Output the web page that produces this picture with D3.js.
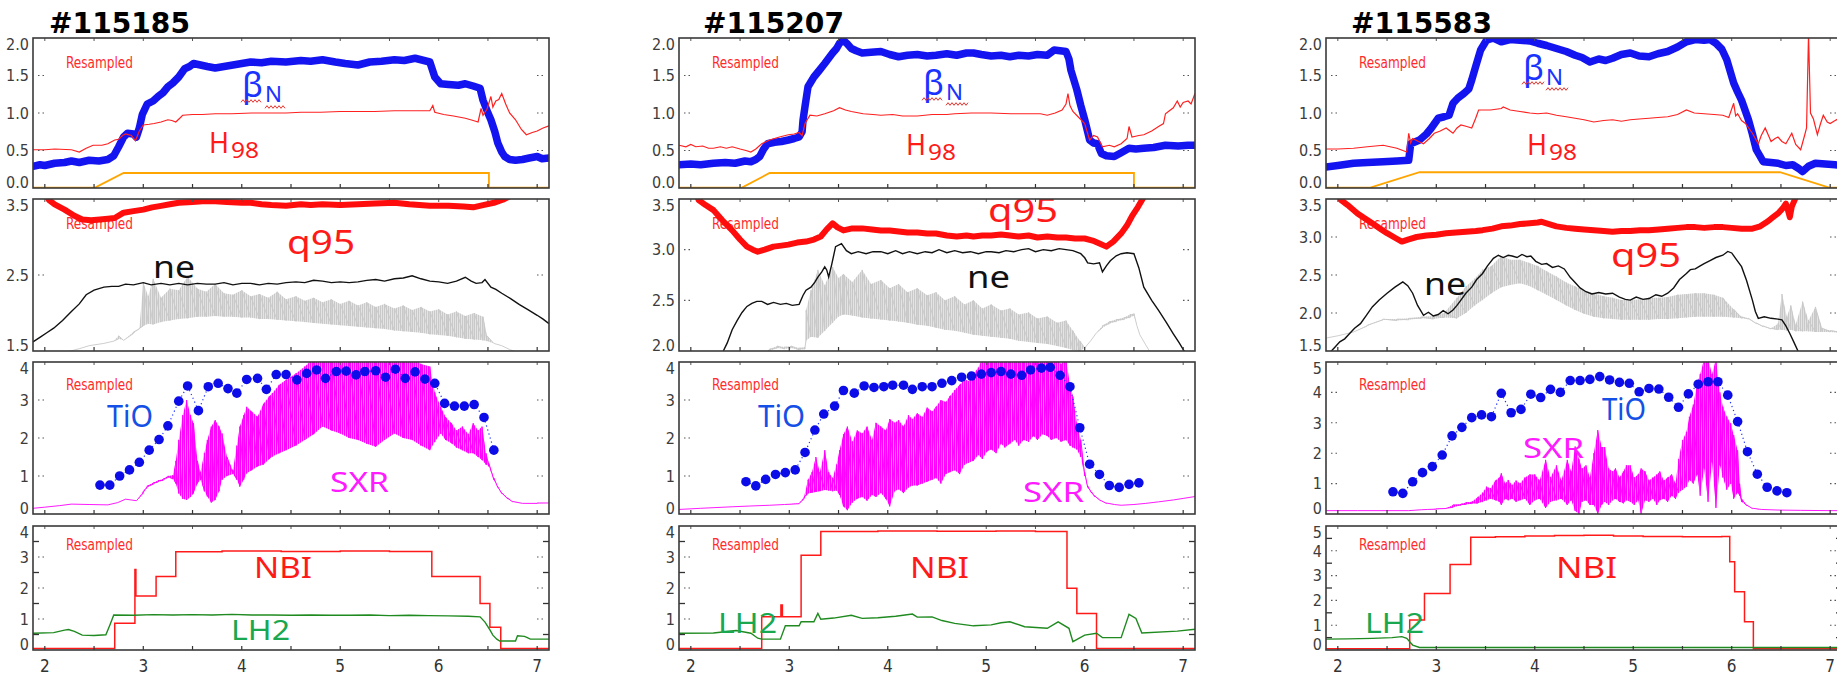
<!DOCTYPE html>
<html><head><meta charset="utf-8">
<script src="https://cdn.jsdelivr.net/npm/d3@7"></script>
<style>body{margin:0;background:#fff}svg{display:block}</style>
</head><body>
<svg id="chart" width="1837" height="677"></svg>
<script>
// ---------- shot numbers ----------
const shots = ["#115185", "#115207", "#115583"];

// ---------- time axis ----------
const xTicks = [2, 3, 4, 5, 6, 7];

// ---------- y tick labels per panel, per shot ----------
const yTicksP1 = [[0, 0.5, 1, 1.5, 2], [0, 0.5, 1, 1.5, 2], [0, 0.5, 1, 1.5, 2]];
const yTicksP2 = [[1.5, 2.5, 3.5], [2, 2.5, 3, 3.5], [1.5, 2, 2.5, 3, 3.5]];
const yTicksP3 = [[0, 1, 2, 3, 4], [0, 1, 2, 3, 4], [0, 1, 2, 3, 4, 5]];
const yTicksP4 = [[0, 1, 2, 3, 4], [0, 1, 2, 3, 4], [0, 1, 2, 3, 4, 5]];

// ---------- #115185 ----------
const bn185 = [[1.88,0.29],[1.95,0.31],[2.0,0.30],[2.1,0.33],[2.2,0.34],[2.27,0.36],[2.35,0.34],[2.45,0.37],[2.55,0.36],[2.64,0.38],[2.7,0.43],[2.75,0.55],[2.8,0.68],[2.84,0.73],[2.9,0.72],[2.93,0.68],[2.96,0.80],[2.99,0.98],[3.04,1.12],[3.1,1.16],[3.15,1.22],[3.2,1.27],[3.25,1.35],[3.3,1.40],[3.36,1.48],[3.42,1.59],[3.47,1.62],[3.51,1.66],[3.58,1.64],[3.65,1.62],[3.73,1.60],[3.82,1.62],[3.91,1.64],[4.0,1.66],[4.09,1.68],[4.2,1.67],[4.3,1.69],[4.45,1.68],[4.6,1.70],[4.7,1.69],[4.82,1.71],[4.95,1.68],[5.05,1.66],[5.18,1.64],[5.3,1.68],[5.42,1.69],[5.55,1.71],[5.65,1.70],[5.76,1.73],[5.85,1.70],[5.91,1.68],[5.96,1.48],[6.02,1.39],[6.1,1.38],[6.2,1.37],[6.27,1.39],[6.35,1.36],[6.42,1.33],[6.45,1.17],[6.5,1.0],[6.53,0.91],[6.57,0.75],[6.6,0.60],[6.64,0.48],[6.67,0.42],[6.72,0.38],[6.78,0.37],[6.85,0.38],[6.92,0.40],[7.0,0.42],[7.05,0.39],[7.12,0.40]];
const h98_185 = [[1.88,0.51],[2.0,0.51],[2.1,0.52],[2.27,0.51],[2.35,0.48],[2.42,0.53],[2.49,0.57],[2.58,0.57],[2.64,0.59],[2.71,0.64],[2.75,0.65],[2.79,0.70],[2.82,0.72],[2.88,0.70],[2.92,0.63],[2.96,0.76],[3.0,0.84],[3.06,0.85],[3.11,0.86],[3.18,0.88],[3.25,0.91],[3.29,0.90],[3.33,0.88],[3.37,0.93],[3.40,0.97],[3.5,0.98],[3.6,0.98],[3.73,0.99],[3.9,0.99],[4.1,1.0],[4.3,1.0],[4.45,1.0],[4.6,1.01],[4.8,1.01],[5.0,1.02],[5.18,1.02],[5.35,1.02],[5.55,1.03],[5.75,1.03],[5.91,1.03],[5.94,1.10],[5.96,1.01],[6.05,0.98],[6.15,0.96],[6.27,0.93],[6.35,0.90],[6.40,0.88],[6.43,1.06],[6.45,0.97],[6.49,1.05],[6.53,1.22],[6.55,1.08],[6.58,1.16],[6.61,1.18],[6.64,1.26],[6.68,1.12],[6.72,1.00],[6.78,0.91],[6.84,0.78],[6.89,0.71],[6.95,0.74],[7.0,0.76],[7.06,0.80],[7.12,0.83]];
const ip185 = [[1.88,0.005],[2.51,0.005],[2.80,0.2],[6.51,0.2],[6.51,0.005],[7.12,0.005]];
const q95_185 = [[1.98,3.65],[2.04,3.49],[2.1,3.43],[2.2,3.36],[2.3,3.28],[2.38,3.23],[2.47,3.22],[2.56,3.23],[2.64,3.24],[2.71,3.25],[2.8,3.32],[2.9,3.34],[3.0,3.36],[3.09,3.39],[3.18,3.41],[3.27,3.43],[3.36,3.45],[3.5,3.46],[3.6,3.47],[3.73,3.47],[3.85,3.46],[4.0,3.45],[4.09,3.45],[4.2,3.43],[4.3,3.42],[4.45,3.41],[4.6,3.43],[4.7,3.42],[4.82,3.43],[5.0,3.42],[5.18,3.43],[5.35,3.44],[5.55,3.45],[5.7,3.43],[5.91,3.41],[6.1,3.41],[6.25,3.40],[6.35,3.39],[6.45,3.42],[6.56,3.45],[6.65,3.49],[6.71,3.53],[6.78,3.62]];
const ne185 = [[1.88,1.62],[1.95,1.68],[2.02,1.74],[2.09,1.80],[2.18,1.90],[2.27,2.02],[2.35,2.12],[2.42,2.24],[2.5,2.30],[2.6,2.34],[2.68,2.35],[2.75,2.35],[2.82,2.38],[2.9,2.37],[3.0,2.40],[3.08,2.37],[3.18,2.39],[3.27,2.37],[3.36,2.39],[3.45,2.37],[3.55,2.39],[3.64,2.38],[3.73,2.38],[3.82,2.40],[3.91,2.37],[4.0,2.39],[4.09,2.39],[4.18,2.37],[4.27,2.39],[4.36,2.38],[4.45,2.40],[4.55,2.41],[4.64,2.40],[4.73,2.43],[4.82,2.42],[4.91,2.40],[5.0,2.41],[5.09,2.40],[5.18,2.41],[5.27,2.43],[5.36,2.44],[5.45,2.42],[5.55,2.45],[5.64,2.46],[5.73,2.49],[5.82,2.45],[5.91,2.42],[6.0,2.41],[6.09,2.39],[6.18,2.42],[6.27,2.47],[6.33,2.42],[6.38,2.39],[6.44,2.40],[6.47,2.44],[6.53,2.34],[6.58,2.31],[6.64,2.26],[6.73,2.19],[6.82,2.11],[6.91,2.04],[7.0,1.97],[7.06,1.92],[7.12,1.86]];
// [t, low, high] envelope of the fast line-density channel
const neFast185 = [[2.05,1.44,1.44],[2.2,1.48,1.48],[2.35,1.53,1.53],[2.45,1.57,1.57],[2.6,1.60,1.60],[2.7,1.63,1.63],[2.75,1.66,1.70],[2.8,1.64,1.64],[2.9,1.73,1.75],[2.96,1.79,1.80],[3.0,1.83,2.40],[3.05,1.86,2.22],[3.1,1.85,2.45],[3.18,1.88,2.20],[3.27,1.90,2.32],[3.36,1.92,2.30],[3.45,1.93,2.48],[3.55,1.95,2.32],[3.64,1.95,2.28],[3.73,1.96,2.38],[3.82,1.95,2.26],[3.91,1.95,2.24],[4.0,1.94,2.30],[4.09,1.94,2.22],[4.18,1.92,2.25],[4.27,1.92,2.20],[4.36,1.91,2.28],[4.45,1.90,2.18],[4.55,1.89,2.22],[4.64,1.88,2.16],[4.73,1.87,2.20],[4.82,1.86,2.14],[4.91,1.85,2.18],[5.0,1.84,2.12],[5.09,1.83,2.16],[5.18,1.82,2.10],[5.27,1.81,2.14],[5.36,1.80,2.08],[5.45,1.79,2.12],[5.55,1.77,2.06],[5.64,1.76,2.10],[5.73,1.75,2.04],[5.82,1.74,2.08],[5.91,1.72,2.02],[6.0,1.71,2.05],[6.09,1.70,1.98],[6.18,1.68,2.02],[6.27,1.66,1.96],[6.36,1.65,2.00],[6.45,1.64,1.95],[6.49,1.63,1.70],[6.56,1.60,1.60],[6.64,1.57,1.57],[6.72,1.52,1.52],[6.78,1.49,1.49],[6.9,1.46,1.46]];
const ti185 = [[2.56,0.76],[2.66,0.76],[2.76,1.0],[2.86,1.16],[2.96,1.36],[3.06,1.68],[3.16,1.96],[3.25,2.32],[3.36,2.97],[3.45,3.37],[3.56,2.72],[3.66,3.35],[3.76,3.44],[3.86,3.30],[3.95,3.18],[4.05,3.54],[4.16,3.57],[4.25,3.28],[4.35,3.67],[4.45,3.67],[4.56,3.53],[4.66,3.70],[4.76,3.79],[4.85,3.57],[4.96,3.75],[5.06,3.76],[5.16,3.66],[5.25,3.75],[5.36,3.77],[5.46,3.60],[5.56,3.81],[5.66,3.57],[5.76,3.74],[5.86,3.55],[5.96,3.44],[6.06,2.91],[6.16,2.84],[6.26,2.84],[6.36,2.88],[6.46,2.54],[6.56,1.68]];
const sxr185 = [[1.88,0.15,0.15],[2.0,0.18,0.18],[2.15,0.22,0.22],[2.27,0.26,0.26],[2.45,0.25,0.25],[2.64,0.24,0.24],[2.74,0.30,0.30],[2.82,0.39,0.39],[2.93,0.35,0.35],[3.0,0.55,0.60],[3.04,0.70,0.74],[3.10,0.78,0.82],[3.15,0.84,0.88],[3.2,0.88,0.92],[3.25,0.96,1.0],[3.30,0.92,1.02],[3.33,0.80,1.40],[3.36,0.54,1.95],[3.40,0.40,2.60],[3.44,0.37,3.0],[3.48,0.45,2.60],[3.51,0.54,2.39],[3.55,0.80,1.40],[3.58,0.90,1.10],[3.62,0.60,1.60],[3.65,0.46,1.95],[3.69,0.30,2.30],[3.73,0.37,2.47],[3.77,0.60,2.30],[3.80,0.90,2.12],[3.85,1.00,1.50],[3.91,1.05,1.15],[3.95,0.90,1.80],[3.98,0.72,2.30],[4.02,0.90,2.60],[4.05,1.07,2.82],[4.1,1.15,2.70],[4.16,1.25,2.56],[4.22,1.30,2.90],[4.28,1.45,3.10],[4.31,1.51,3.18],[4.38,1.60,3.40],[4.45,1.68,3.53],[4.55,1.80,3.70],[4.64,1.95,3.88],[4.73,2.10,4.1],[4.82,2.30,4.1],[4.91,2.20,4.1],[5.0,2.12,4.1],[5.09,2.00,4.1],[5.18,1.95,4.1],[5.27,1.85,4.0],[5.36,1.77,4.1],[5.45,1.95,4.1],[5.55,2.12,4.1],[5.64,2.00,4.0],[5.73,1.95,4.1],[5.82,1.80,3.95],[5.91,1.68,3.88],[5.96,1.90,3.20],[6.02,2.12,2.82],[6.07,1.95,2.55],[6.13,1.86,2.39],[6.18,1.75,2.20],[6.24,1.68,2.30],[6.30,1.60,2.10],[6.35,1.60,2.39],[6.40,1.50,2.20],[6.44,1.42,2.30],[6.48,1.30,1.60],[6.51,1.25,1.33],[6.56,0.90,0.95],[6.60,0.70,0.72],[6.64,0.54,0.56],[6.70,0.40,0.42],[6.75,0.32,0.33],[6.85,0.28,0.28],[7.0,0.28,0.29],[7.12,0.29,0.29]];
const nbi185 = [[1.88,0.05],[2.71,0.86],[2.915,2.6],[2.925,1.74],[3.13,2.37],[3.33,3.17],[3.8,3.19],[4.4,3.18],[5.0,3.19],[5.5,3.18],[5.93,2.37],[6.42,1.5],[6.52,0.73],[6.63,0.05],[7.12,0.05]];
const lh2_185 = [[1.88,0.54],[2.09,0.56],[2.2,0.64],[2.24,0.66],[2.3,0.60],[2.38,0.48],[2.5,0.47],[2.62,0.49],[2.66,0.80],[2.70,1.13],[2.9,1.12],[3.1,1.14],[3.3,1.13],[3.5,1.14],[3.7,1.13],[3.9,1.15],[4.1,1.13],[4.3,1.13],[4.5,1.12],[4.7,1.13],[4.9,1.12],[5.1,1.12],[5.3,1.13],[5.5,1.11],[5.7,1.12],[5.9,1.11],[6.1,1.10],[6.3,1.09],[6.42,1.07],[6.47,0.90],[6.52,0.65],[6.55,0.48],[6.59,0.35],[6.62,0.29],[6.78,0.29],[6.80,0.46],[6.87,0.44],[6.90,0.40],[6.93,0.35],[7.05,0.35],[7.12,0.35]];

// ---------- #115207 ----------
const bn207 = [[1.88,0.31],[2.0,0.32],[2.1,0.31],[2.23,0.33],[2.35,0.34],[2.45,0.33],[2.55,0.36],[2.61,0.35],[2.66,0.38],[2.70,0.42],[2.74,0.52],[2.78,0.59],[2.85,0.61],[2.92,0.62],[2.99,0.64],[3.05,0.66],[3.10,0.68],[3.13,0.75],[3.14,0.91],[3.16,1.09],[3.19,1.35],[3.25,1.48],[3.30,1.56],[3.36,1.66],[3.40,1.73],[3.44,1.80],[3.48,1.86],[3.51,1.93],[3.55,1.97],[3.59,1.92],[3.63,1.86],[3.68,1.83],[3.74,1.80],[3.83,1.81],[3.93,1.82],[4.02,1.78],[4.11,1.75],[4.2,1.77],[4.3,1.78],[4.4,1.76],[4.49,1.77],[4.6,1.79],[4.7,1.77],[4.8,1.80],[4.87,1.80],[4.95,1.78],[5.05,1.76],[5.15,1.77],[5.24,1.75],[5.33,1.77],[5.43,1.76],[5.52,1.78],[5.62,1.77],[5.69,1.84],[5.75,1.83],[5.81,1.82],[5.84,1.72],[5.86,1.57],[5.89,1.44],[5.92,1.31],[5.96,1.10],[6.0,0.91],[6.03,0.75],[6.05,0.64],[6.09,0.60],[6.13,0.59],[6.15,0.52],[6.17,0.46],[6.22,0.43],[6.30,0.42],[6.37,0.47],[6.45,0.53],[6.52,0.52],[6.60,0.53],[6.7,0.54],[6.82,0.57],[6.95,0.56],[7.05,0.57],[7.12,0.57]];
const h98_207 = [[1.88,0.57],[1.95,0.55],[2.0,0.58],[2.05,0.55],[2.12,0.56],[2.18,0.53],[2.23,0.53],[2.3,0.55],[2.36,0.53],[2.42,0.55],[2.5,0.52],[2.56,0.50],[2.61,0.48],[2.66,0.52],[2.72,0.59],[2.80,0.64],[2.9,0.68],[2.99,0.71],[3.05,0.72],[3.10,0.74],[3.13,0.70],[3.16,0.86],[3.21,0.97],[3.28,0.96],[3.36,0.99],[3.45,1.03],[3.51,1.07],[3.57,1.04],[3.63,1.02],[3.75,0.99],[3.85,0.98],[3.93,0.97],[4.05,0.98],[4.15,0.96],[4.3,0.96],[4.45,0.98],[4.6,0.98],[4.68,0.99],[4.85,1.0],[5.05,1.0],[5.25,0.99],[5.43,0.99],[5.55,0.99],[5.62,0.97],[5.70,1.0],[5.77,1.04],[5.81,1.12],[5.83,1.26],[5.85,1.10],[5.88,1.02],[5.94,0.94],[6.0,0.86],[6.05,0.64],[6.09,0.70],[6.13,0.68],[6.18,0.55],[6.25,0.57],[6.30,0.55],[6.37,0.59],[6.43,0.66],[6.45,0.82],[6.48,0.68],[6.55,0.70],[6.60,0.71],[6.68,0.76],[6.75,0.82],[6.80,0.86],[6.82,0.99],[6.86,1.03],[6.90,1.07],[6.94,1.16],[6.97,1.08],[7.0,1.14],[7.05,1.16],[7.08,1.12],[7.12,1.26]];
const ip207 = [[1.88,0.005],[2.52,0.005],[2.80,0.2],[6.50,0.2],[6.50,0.005],[7.12,0.005]];
const q95_207 = [[2.0,3.68],[2.08,3.49],[2.15,3.44],[2.23,3.39],[2.32,3.29],[2.42,3.19],[2.5,3.10],[2.57,3.03],[2.63,3.0],[2.68,2.98],[2.75,3.0],[2.84,3.03],[2.92,3.04],[2.99,3.05],[3.08,3.07],[3.17,3.08],[3.25,3.10],[3.32,3.13],[3.38,3.20],[3.44,3.26],[3.49,3.22],[3.55,3.19],[3.64,3.21],[3.74,3.21],[3.84,3.20],[3.93,3.19],[4.02,3.19],[4.11,3.18],[4.2,3.17],[4.3,3.17],[4.4,3.16],[4.49,3.16],[4.6,3.14],[4.7,3.13],[4.8,3.14],[4.87,3.13],[4.96,3.14],[5.05,3.14],[5.15,3.15],[5.24,3.14],[5.33,3.13],[5.43,3.14],[5.52,3.12],[5.62,3.13],[5.72,3.12],[5.81,3.12],[5.9,3.11],[6.0,3.11],[6.08,3.09],[6.15,3.06],[6.22,3.03],[6.29,3.08],[6.37,3.16],[6.43,3.24],[6.48,3.33],[6.54,3.42],[6.6,3.52],[6.65,3.62]];
const ne207 = [[2.30,1.95],[2.33,2.0],[2.37,2.08],[2.42,2.21],[2.47,2.30],[2.52,2.38],[2.57,2.44],[2.62,2.47],[2.67,2.49],[2.72,2.49],[2.78,2.46],[2.84,2.48],[2.91,2.46],[2.97,2.47],[3.03,2.45],[3.10,2.46],[3.14,2.55],[3.17,2.60],[3.22,2.63],[3.26,2.68],[3.29,2.73],[3.33,2.78],[3.36,2.83],[3.38,2.80],[3.40,2.73],[3.43,2.85],[3.47,3.03],[3.53,3.06],[3.58,2.99],[3.63,2.96],[3.7,2.98],[3.78,2.96],[3.85,2.98],[3.93,2.98],[4.0,2.96],[4.08,2.99],[4.15,2.96],[4.22,2.98],[4.30,2.96],[4.38,2.98],[4.45,2.97],[4.52,3.0],[4.6,2.97],[4.68,2.99],[4.76,2.97],[4.84,2.98],[4.92,2.96],[5.0,2.98],[5.05,2.98],[5.13,2.97],[5.2,2.99],[5.28,2.98],[5.36,3.0],[5.43,3.01],[5.5,2.98],[5.58,3.0],[5.66,2.99],[5.74,3.01],[5.81,3.0],[5.88,2.99],[5.96,2.96],[6.0,2.92],[6.03,2.87],[6.09,2.86],[6.15,2.87],[6.18,2.78],[6.22,2.84],[6.26,2.89],[6.32,2.94],[6.37,2.96],[6.43,2.97],[6.50,2.96],[6.55,2.82],[6.60,2.63],[6.68,2.50],[6.75,2.40],[6.83,2.28],[6.90,2.17],[6.96,2.08],[7.01,2.0],[7.05,1.95]];
const neFast207 = [[2.75,1.98,1.98],[2.80,2.0,2.02],[2.88,2.03,2.05],[2.95,2.02,2.04],[3.02,2.03,2.05],[3.10,2.01,2.03],[3.16,2.02,2.04],[3.17,2.10,2.40],[3.22,2.14,2.60],[3.29,2.13,2.80],[3.36,2.20,2.65],[3.44,2.28,2.83],[3.50,2.34,2.72],[3.55,2.36,2.76],[3.64,2.35,2.68],[3.74,2.33,2.80],[3.83,2.32,2.66],[3.93,2.31,2.70],[4.02,2.30,2.62],[4.11,2.29,2.66],[4.2,2.28,2.58],[4.30,2.26,2.62],[4.4,2.25,2.55],[4.49,2.23,2.58],[4.58,2.21,2.50],[4.68,2.20,2.54],[4.78,2.18,2.46],[4.87,2.16,2.50],[4.96,2.15,2.42],[5.05,2.14,2.46],[5.15,2.13,2.40],[5.24,2.12,2.42],[5.33,2.10,2.36],[5.43,2.09,2.38],[5.52,2.08,2.32],[5.62,2.07,2.34],[5.72,2.05,2.28],[5.81,2.03,2.30],[5.88,2.01,2.20],[5.95,2.0,2.10],[6.0,2.03,2.03],[6.06,2.10,2.10],[6.12,2.18,2.18],[6.18,2.23,2.25],[6.25,2.27,2.29],[6.32,2.29,2.31],[6.40,2.31,2.33],[6.46,2.33,2.36],[6.50,2.35,2.37],[6.53,2.25,2.25],[6.56,2.16,2.16],[6.62,2.06,2.06],[6.67,1.98,1.98]];
const ti207 = [[2.56,0.85],[2.66,0.74],[2.76,0.91],[2.86,1.04],[2.96,1.09],[3.06,1.16],[3.16,1.62],[3.26,2.21],[3.35,2.63],[3.46,2.84],[3.55,3.25],[3.66,3.18],[3.76,3.37],[3.86,3.33],[3.96,3.35],[4.05,3.39],[4.16,3.39],[4.25,3.28],[4.35,3.35],[4.45,3.35],[4.55,3.44],[4.65,3.51],[4.75,3.60],[4.85,3.63],[4.95,3.68],[5.05,3.72],[5.15,3.75],[5.25,3.68],[5.36,3.65],[5.45,3.79],[5.56,3.84],[5.65,3.86],[5.75,3.65],[5.85,3.35],[5.95,2.27],[6.05,1.31],[6.15,1.04],[6.25,0.75],[6.35,0.70],[6.45,0.78],[6.55,0.82]];
const sxr207 = [[1.88,0.12,0.12],[2.1,0.15,0.15],[2.42,0.19,0.19],[2.6,0.21,0.21],[2.8,0.23,0.23],[2.95,0.25,0.25],[3.10,0.27,0.28],[3.15,0.40,0.45],[3.19,0.54,0.90],[3.23,0.56,1.10],[3.27,0.58,1.50],[3.31,0.60,1.10],[3.36,0.63,1.68],[3.40,0.62,1.10],[3.44,0.60,0.95],[3.48,0.62,1.30],[3.51,0.50,1.68],[3.55,0.20,2.10],[3.59,0.10,2.30],[3.64,0.30,1.90],[3.69,0.40,2.20],[3.74,0.45,2.12],[3.79,0.35,2.30],[3.84,0.50,1.95],[3.88,0.45,2.40],[3.93,0.55,2.30],[3.98,0.40,2.20],[4.02,0.20,2.50],[4.07,0.60,2.40],[4.11,0.65,2.47],[4.16,0.55,2.30],[4.21,0.70,2.60],[4.25,0.75,2.50],[4.30,0.75,2.65],[4.35,0.80,2.55],[4.40,0.85,2.80],[4.45,0.90,2.70],[4.49,0.95,2.82],[4.54,0.80,3.0],[4.59,1.05,2.95],[4.63,1.10,3.10],[4.68,1.15,3.26],[4.73,1.05,3.40],[4.78,1.30,3.55],[4.82,1.35,3.50],[4.87,1.40,3.70],[4.92,1.55,3.85],[4.96,1.45,4.1],[5.01,1.65,4.1],[5.05,1.70,4.1],[5.10,1.60,4.1],[5.15,1.85,4.1],[5.19,1.75,4.0],[5.24,1.85,4.1],[5.29,1.95,4.1],[5.33,1.80,4.1],[5.38,1.95,4.0],[5.43,1.90,4.1],[5.48,2.05,4.1],[5.52,1.95,4.1],[5.57,2.10,4.0],[5.62,2.05,4.1],[5.66,1.95,4.1],[5.71,2.00,4.1],[5.76,1.90,3.95],[5.81,1.95,4.1],[5.85,1.80,3.40],[5.88,1.75,3.09],[5.92,1.70,2.40],[5.96,1.50,1.95],[6.0,1.00,1.10],[6.03,0.70,0.74],[6.07,0.55,0.58],[6.10,0.46,0.48],[6.16,0.35,0.36],[6.22,0.28,0.29],[6.30,0.25,0.25],[6.37,0.23,0.23],[6.50,0.25,0.25],[6.62,0.28,0.28],[6.75,0.32,0.32],[6.90,0.37,0.37],[7.0,0.41,0.41],[7.12,0.46,0.46]];
const nbi207 = [[1.88,0.05],[2.72,1.07],[2.915,1.45],[2.93,1.07],[3.12,3.06],[3.32,3.82],[3.9,3.84],[4.5,3.83],[5.1,3.84],[5.5,3.82],[5.82,1.99],[5.92,1.18],[6.12,0.05],[7.12,0.05]];
const lh2_207 = [[1.88,0.54],[2.23,0.55],[2.46,0.63],[2.61,0.54],[2.68,0.38],[2.72,0.35],[2.91,0.35],[2.96,0.78],[3.10,0.78],[3.12,0.91],[3.25,0.91],[3.29,1.18],[3.32,0.99],[3.45,1.03],[3.63,1.12],[3.74,1.02],[3.9,1.04],[4.08,1.09],[4.25,1.16],[4.3,1.06],[4.45,1.07],[4.55,0.95],[4.68,0.86],[4.87,0.78],[5.05,0.81],[5.15,0.88],[5.24,0.91],[5.39,0.75],[5.62,0.70],[5.73,0.91],[5.84,0.70],[5.88,0.27],[6.0,0.48],[6.12,0.54],[6.18,0.40],[6.37,0.40],[6.45,1.15],[6.52,1.02],[6.58,0.55],[6.94,0.61],[7.12,0.67]];

// ---------- #115583 ----------
const bn583 = [[1.88,0.28],[2.0,0.30],[2.16,0.33],[2.3,0.34],[2.46,0.35],[2.6,0.36],[2.72,0.37],[2.74,0.59],[2.83,0.64],[2.9,0.72],[2.95,0.80],[3.02,0.93],[3.08,0.95],[3.13,0.97],[3.17,1.13],[3.22,1.20],[3.28,1.26],[3.33,1.32],[3.36,1.44],[3.40,1.62],[3.45,1.84],[3.51,1.97],[3.58,2.0],[3.66,1.95],[3.75,1.98],[3.85,1.97],[3.95,1.96],[4.03,1.93],[4.12,1.90],[4.22,1.86],[4.32,1.82],[4.41,1.77],[4.48,1.74],[4.56,1.68],[4.65,1.72],[4.72,1.70],[4.79,1.73],[4.88,1.78],[4.97,1.80],[5.06,1.76],[5.16,1.75],[5.25,1.79],[5.35,1.82],[5.45,1.88],[5.54,1.95],[5.63,1.98],[5.72,1.97],[5.78,1.98],[5.84,1.93],[5.90,1.85],[5.95,1.71],[6.02,1.40],[6.06,1.28],[6.10,1.17],[6.17,0.91],[6.21,0.72],[6.25,0.51],[6.32,0.35],[6.40,0.34],[6.47,0.33],[6.55,0.30],[6.62,0.31],[6.68,0.26],[6.72,0.22],[6.78,0.29],[6.85,0.33],[6.95,0.32],[7.05,0.31],[7.12,0.30]];
const h98_583 = [[1.88,0.52],[2.0,0.52],[2.16,0.53],[2.3,0.55],[2.46,0.57],[2.6,0.53],[2.70,0.48],[2.72,0.73],[2.74,0.60],[2.76,0.66],[2.82,0.62],[2.87,0.59],[2.93,0.66],[2.98,0.73],[3.04,0.76],[3.10,0.80],[3.14,0.76],[3.17,0.73],[3.21,0.80],[3.25,0.84],[3.31,0.82],[3.36,0.80],[3.40,0.93],[3.43,1.04],[3.55,1.04],[3.66,1.06],[3.68,1.08],[3.75,1.04],[3.85,1.02],[3.95,1.0],[4.03,0.99],[4.12,1.0],[4.22,0.97],[4.32,0.95],[4.41,0.93],[4.5,0.91],[4.6,0.88],[4.7,0.90],[4.79,0.91],[4.88,0.89],[4.97,0.91],[5.06,0.92],[5.16,0.93],[5.25,0.94],[5.35,0.95],[5.45,0.98],[5.54,1.04],[5.62,1.0],[5.72,0.99],[5.82,0.98],[5.91,0.97],[5.97,0.94],[6.02,1.13],[6.04,0.96],[6.06,0.99],[6.10,0.90],[6.14,0.86],[6.21,0.73],[6.27,0.59],[6.30,0.70],[6.34,0.80],[6.40,0.62],[6.44,0.66],[6.47,0.68],[6.51,0.62],[6.55,0.59],[6.58,0.66],[6.61,0.73],[6.65,0.58],[6.70,0.51],[6.74,0.70],[6.76,0.80],[6.78,2.05],[6.80,1.00],[6.83,0.92],[6.87,0.71],[6.90,0.85],[6.93,0.97],[6.97,0.88],[7.0,0.86],[7.05,0.90],[7.12,0.95]];
const ip583 = [[1.88,0.005],[2.33,0.005],[2.83,0.21],[6.49,0.21],[6.99,0.005],[7.12,0.005]];
const q95_583 = [[1.98,3.65],[2.03,3.49],[2.1,3.42],[2.2,3.31],[2.28,3.24],[2.35,3.18],[2.43,3.11],[2.5,3.05],[2.58,2.99],[2.65,2.94],[2.72,2.97],[2.80,3.0],[2.9,3.02],[3.0,3.03],[3.10,3.05],[3.2,3.06],[3.3,3.07],[3.4,3.08],[3.47,3.09],[3.57,3.11],[3.66,3.14],[3.75,3.15],[3.85,3.17],[3.95,3.18],[4.03,3.19],[4.07,3.20],[4.12,3.18],[4.22,3.14],[4.32,3.12],[4.41,3.11],[4.5,3.10],[4.60,3.09],[4.7,3.08],[4.79,3.07],[4.88,3.08],[4.97,3.08],[5.07,3.09],[5.16,3.09],[5.26,3.10],[5.35,3.11],[5.45,3.12],[5.54,3.13],[5.63,3.13],[5.72,3.12],[5.82,3.13],[5.91,3.13],[6.0,3.12],[6.1,3.11],[6.21,3.11],[6.29,3.14],[6.36,3.20],[6.42,3.26],[6.47,3.31],[6.52,3.38],[6.55,3.44],[6.57,3.36],[6.59,3.26],[6.61,3.40],[6.64,3.49],[6.68,3.60]];
const ne583 = [[1.92,1.48],[1.97,1.55],[2.02,1.62],[2.07,1.66],[2.12,1.73],[2.17,1.80],[2.23,1.86],[2.29,1.97],[2.35,2.08],[2.42,2.17],[2.50,2.26],[2.58,2.34],[2.66,2.41],[2.71,2.36],[2.76,2.26],[2.81,2.10],[2.87,1.97],[2.92,2.01],[2.97,1.96],[3.02,1.98],[3.07,2.03],[3.12,1.99],[3.17,2.04],[3.21,2.10],[3.25,2.17],[3.30,2.26],[3.36,2.34],[3.41,2.44],[3.47,2.52],[3.52,2.62],[3.58,2.72],[3.63,2.76],[3.68,2.73],[3.73,2.76],[3.77,2.75],[3.82,2.73],[3.87,2.77],[3.92,2.74],[3.96,2.75],[4.01,2.68],[4.07,2.64],[4.12,2.65],[4.18,2.60],[4.24,2.62],[4.30,2.58],[4.36,2.47],[4.41,2.40],[4.46,2.33],[4.52,2.28],[4.58,2.25],[4.65,2.27],[4.72,2.25],[4.79,2.26],[4.86,2.21],[4.92,2.18],[4.97,2.17],[5.03,2.21],[5.10,2.18],[5.16,2.19],[5.23,2.24],[5.29,2.22],[5.35,2.26],[5.41,2.33],[5.47,2.44],[5.54,2.52],[5.58,2.57],[5.63,2.58],[5.68,2.62],[5.72,2.65],[5.78,2.69],[5.84,2.73],[5.91,2.76],[5.96,2.81],[6.0,2.79],[6.05,2.70],[6.10,2.61],[6.15,2.43],[6.21,2.17],[6.24,2.02],[6.27,1.93],[6.33,1.95],[6.40,1.93],[6.47,1.92],[6.51,1.91],[6.55,1.83],[6.59,1.73],[6.63,1.62],[6.68,1.48]];
const neFast583 = [[1.88,1.67,1.67],[2.0,1.70,1.70],[2.16,1.75,1.75],[2.3,1.83,1.84],[2.46,1.91,1.92],[2.6,1.90,1.92],[2.72,1.91,1.93],[2.85,1.93,1.95],[2.97,1.92,1.96],[3.08,1.94,2.0],[3.21,1.93,2.20],[3.3,2.0,2.35],[3.39,2.10,2.45],[3.47,2.17,2.57],[3.56,2.26,2.62],[3.66,2.34,2.75],[3.75,2.37,2.70],[3.85,2.39,2.70],[3.94,2.36,2.66],[4.03,2.30,2.62],[4.12,2.24,2.55],[4.22,2.17,2.48],[4.32,2.10,2.40],[4.41,2.04,2.35],[4.5,1.99,2.30],[4.60,1.95,2.26],[4.7,1.93,2.22],[4.79,1.92,2.20],[4.88,1.91,2.17],[4.97,1.91,2.17],[5.07,1.91,2.18],[5.16,1.91,2.20],[5.26,1.92,2.20],[5.35,1.92,2.21],[5.45,1.93,2.24],[5.54,1.94,2.25],[5.63,1.95,2.26],[5.72,1.95,2.26],[5.82,1.95,2.24],[5.91,1.95,2.20],[6.02,1.94,2.05],[6.10,1.93,1.95],[6.17,1.92,1.93],[6.25,1.86,1.87],[6.32,1.82,1.83],[6.40,1.79,1.80],[6.47,1.78,1.86],[6.51,1.78,2.25],[6.56,1.77,1.95],[6.60,1.78,2.10],[6.65,1.76,1.85],[6.72,1.76,2.15],[6.78,1.76,1.90],[6.85,1.75,2.08],[6.92,1.75,1.80],[7.0,1.75,1.77],[7.12,1.74,1.76]];
const ti583 = [[2.56,0.73],[2.66,0.68],[2.76,1.06],[2.86,1.36],[2.96,1.56],[3.06,1.94],[3.16,2.57],[3.26,2.85],[3.36,3.17],[3.46,3.26],[3.56,3.20],[3.66,3.97],[3.76,3.33],[3.86,3.44],[3.96,3.94],[4.06,3.83],[4.16,4.10],[4.26,4.0],[4.36,4.39],[4.46,4.39],[4.56,4.43],[4.66,4.52],[4.76,4.41],[4.86,4.33],[4.96,4.30],[5.06,4.02],[5.16,4.13],[5.26,4.11],[5.36,3.84],[5.46,3.51],[5.56,3.95],[5.66,4.27],[5.76,4.35],[5.86,4.35],[5.96,3.91],[6.06,3.04],[6.16,2.05],[6.26,1.31],[6.36,0.88],[6.46,0.76],[6.56,0.70]];
const sxr583 = [[1.88,0.11,0.11],[2.2,0.11,0.11],[2.5,0.11,0.11],[2.72,0.11,0.11],[2.85,0.14,0.14],[2.91,0.15,0.15],[3.0,0.16,0.17],[3.10,0.18,0.19],[3.17,0.22,0.30],[3.25,0.29,0.33],[3.30,0.31,0.38],[3.36,0.34,0.40],[3.42,0.35,0.55],[3.47,0.40,0.70],[3.51,0.45,0.90],[3.55,0.50,0.85],[3.60,0.45,1.10],[3.64,0.40,1.20],[3.66,0.30,1.34],[3.70,0.50,1.00],[3.73,0.45,1.12],[3.77,0.50,0.95],[3.81,0.40,1.10],[3.85,0.45,1.00],[3.90,0.50,1.20],[3.95,0.30,1.30],[4.0,0.45,1.30],[4.05,0.50,1.10],[4.11,0.20,1.78],[4.16,0.40,1.20],[4.22,0.45,1.60],[4.27,0.50,1.10],[4.33,0.30,1.78],[4.37,0.45,1.40],[4.41,0.10,2.22],[4.45,0.0,1.80],[4.48,0.40,1.50],[4.52,0.45,1.60],[4.56,0.30,1.20],[4.60,0.30,2.00],[4.64,0.0,2.76],[4.68,0.30,2.20],[4.71,0.40,2.20],[4.75,0.30,1.50],[4.79,0.45,1.40],[4.82,0.50,1.50],[4.86,0.40,1.20],[4.90,0.35,1.40],[4.93,0.45,1.60],[4.97,0.40,1.60],[5.01,0.30,1.20],[5.05,0.45,1.30],[5.08,0.00,1.50],[5.12,0.45,1.40],[5.16,0.40,1.10],[5.20,0.50,1.20],[5.24,0.30,1.30],[5.27,0.45,1.40],[5.31,0.50,1.10],[5.35,0.40,1.20],[5.39,0.60,1.30],[5.43,0.50,1.00],[5.46,0.70,1.80],[5.50,0.80,2.43],[5.54,0.90,2.70],[5.57,1.12,3.20],[5.61,1.00,3.60],[5.65,1.30,4.30],[5.68,0.60,4.60],[5.72,1.50,5.1],[5.76,0.40,5.1],[5.80,1.70,4.60],[5.84,0.20,5.1],[5.88,1.60,4.00],[5.91,1.20,3.53],[5.95,0.80,3.20],[5.99,1.00,2.98],[6.02,0.50,2.60],[6.06,0.70,2.10],[6.08,0.60,1.00],[6.10,0.40,0.50],[6.15,0.28,0.30],[6.21,0.18,0.19],[6.3,0.15,0.15],[6.47,0.13,0.13],[6.7,0.12,0.12],[7.0,0.11,0.11],[7.12,0.11,0.11]];
const nbi583 = [[1.88,0.05],[2.73,1.21],[2.88,2.28],[3.14,3.45],[3.35,4.55],[3.6,4.57],[3.9,4.60],[4.2,4.62],[4.5,4.63],[4.8,4.60],[5.1,4.58],[5.5,4.57],[5.9,4.58],[5.98,3.56],[6.03,2.35],[6.13,1.14],[6.22,0.05],[7.12,0.05]];
const lh2_583 = [[1.88,0.44],[2.1,0.45],[2.35,0.47],[2.55,0.50],[2.65,0.54],[2.70,0.47],[2.76,0.20],[2.83,0.10],[7.12,0.10]];

// ---------- layout ----------
const colLeft = [33, 679, 1326];
const colWidth = 516;
const panelTop = [38, 199, 362, 526];
const panelBottom = [188, 351, 514, 650];
const tDomain = [1.88, 7.12];
const yDomains = [
  [[0, 2], [0, 2], [0, 2]],
  [[1.5, 3.5], [2, 3.5], [1.5, 3.5]],
  [[0, 4], [0, 4], [0, 5]],
  [[0, 4], [0, 4], [0, 5]]
];
const yTickSets = [yTicksP1, yTicksP2, yTicksP3, yTicksP4];

const series = [
  {bn: bn185, h98: h98_185, ip: ip185, q95: q95_185, ne: ne185, neFast: neFast185, ti: ti185, sxr: sxr185, nbi: nbi185, lh2: lh2_185},
  {bn: bn207, h98: h98_207, ip: ip207, q95: q95_207, ne: ne207, neFast: neFast207, ti: ti207, sxr: sxr207, nbi: nbi207, lh2: lh2_207},
  {bn: bn583, h98: h98_583, ip: ip583, q95: q95_583, ne: ne583, neFast: neFast583, ti: ti583, sxr: sxr583, nbi: nbi583, lh2: lh2_583}
];

// label placement: dx from frame left, y = baseline
const titleDx = [16, 24, 25];
const labelLayout = [
  {beta:[209,97], n:[232,102], h:[176,153], h98:[198,158], q95:[254,254,68], ne:[120,278,42], ti:[74,427,46], sxr:[297,492,59], nbi:[221,578,58], lh2:[198,640,59], sq:[[208,229,101],[232,253,107]]},
  {beta:[244,95], n:[267,100], h:[227,155], h98:[249,160], q95:[309,222,70], ne:[288,288,43], ti:[79,427,47], sxr:[344,502,61], nbi:[231,578,59], lh2:[39,633,59], sq:[[243,264,99],[267,289,104]]},
  {beta:[197,80], n:[220,85], h:[201,155], h98:[223,160], q95:[285,267,70], ne:[98,295,42], ti:[276,420,44], sxr:[197,458,61], nbi:[230,578,61], lh2:[39,633,59], sq:[[196,218,83],[220,242,89]]}
];

const FONT_LBL = "'Noto Sans', Lato, sans-serif";
const FONT_AX = "'Liberation Sans Narrow','DejaVu Sans Condensed','Liberation Sans',sans-serif";

const svg = d3.select("#chart");
svg.append("rect").attr("width", 1837).attr("height", 677).attr("fill", "#fff");
const defs = svg.append("defs");

// striped fills for the fast, spiky channels
function stripe(id, c1, c2) {
  const p = defs.append("pattern").attr("id", id).attr("width", 2).attr("height", 4)
    .attr("patternUnits", "userSpaceOnUse");
  p.append("rect").attr("width", 2).attr("height", 4).attr("fill", c2);
  p.append("rect").attr("width", 1).attr("height", 4).attr("fill", c1);
}
stripe("magStripe", "#ff00ff", "#ff8cff");
stripe("greyStripe", "#c9c9c9", "#e4e4e4");

function txt(g, s, x, y, size, color, width, opts = {}) {
  const t = g.append("text").attr("x", x).attr("y", y).text(s)
    .attr("font-family", opts.family || FONT_LBL).attr("font-size", size)
    .attr("fill", color);
  if (opts.weight) t.attr("font-weight", opts.weight);
  if (width) t.attr("textLength", width).attr("lengthAdjust", "spacingAndGlyphs");
  if (opts.anchor) t.attr("text-anchor", opts.anchor);
  return t;
}

function squiggle(g, x0, x1, y) {
  const pts = [];
  let i = 0;
  for (let x = x0; x <= x1; x += 2, i++) pts.push([x, y + (i % 2 ? -1.3 : 1.3)]);
  g.append("path").attr("d", d3.line()(pts)).attr("fill", "none")
    .attr("stroke", "#e8342c").attr("stroke-width", 1);
}

shots.forEach((shot, c) => {
  const L = colLeft[c], R = L + colWidth;
  const x = d3.scaleLinear().domain(tDomain).range([L, R]);
  const s = series[c];
  const lay = labelLayout[c];
  const col = svg.append("g");

  // shot number
  txt(col, shot, L + titleDx[c], 33, 29, "#000", 141, {family: "'DejaVu Sans', sans-serif", weight: "bold"});

  const ys = [0, 1, 2, 3].map(p => d3.scaleLinear().domain(yDomains[p][c]).range([panelBottom[p], panelTop[p]]));

  const panels = ys.map((y, p) => {
    const id = `clip${c}${p}`;
    defs.append("clipPath").attr("id", id).append("rect")
      .attr("x", L).attr("y", panelTop[p]).attr("width", colWidth).attr("height", panelBottom[p] - panelTop[p]);
    return col.append("g").attr("clip-path", `url(#${id})`);
  });

  const lineOf = (y, curve) => d3.line().x(d => x(d[0])).y(d => y(d[1])).curve(curve || d3.curveLinear);

  function envelope(g, y, data, fillId, stroke) {
    g.append("path").datum(data)
      .attr("d", d3.area().x(d => x(d[0])).y0(d => y(d[1])).y1(d => y(d[2])))
      .attr("fill", `url(#${fillId})`);
    const pts = [];
    data.forEach(d => { pts.push([x(d[0]), y(d[1])]); pts.push([x(d[0]), y(d[2])]); });
    g.append("path").attr("d", d3.line()(pts)).attr("fill", "none")
      .attr("stroke", stroke).attr("stroke-width", 0.9);
  }

  const resampled = (g, p) => txt(g, "Resampled", L + 33, panelTop[p] + (p === 3 ? 24 : (p === 2 ? 28 : 30)), 16, "#ff2a2a", 67,
    {family: "'Liberation Sans Narrow','DejaVu Sans Condensed',sans-serif"});

  // ---- panel 1: beta_N, H98, current ramp ----
  {
    const g = panels[0], y = ys[0];
    resampled(g, 0);
    g.append("path").datum(s.bn).attr("d", lineOf(y)).attr("fill", "none")
      .attr("stroke", "#1414f0").attr("stroke-width", 7.5).attr("stroke-linejoin", "round").attr("stroke-linecap", "round");
    g.append("path").datum(s.h98).attr("d", lineOf(y)).attr("fill", "none")
      .attr("stroke", "#ff2020").attr("stroke-width", 1.2);
    g.append("path").datum(s.ip).attr("d", lineOf(y)).attr("fill", "none")
      .attr("stroke", "#ffa500").attr("stroke-width", 1.8);
    txt(g, "β", L + lay.beta[0], lay.beta[1], 34, "#1a33ff", 21);
    txt(g, "N", L + lay.n[0], lay.n[1], 22, "#1a33ff", 17);
    lay.sq.forEach(q => squiggle(g, L + q[0], L + q[1], q[2]));
    txt(g, "H", L + lay.h[0], lay.h[1], 29, "#ff1a1a", 20);
    txt(g, "98", L + lay.h98[0], lay.h98[1], 22, "#ff1a1a", 28);
  }
  // ---- panel 2: q95, density ----
  {
    const g = panels[1], y = ys[1];
    resampled(g, 1);
    envelope(g, y, s.neFast, "greyStripe", "#c8c8c8");
    g.append("path").datum(s.ne).attr("d", lineOf(y)).attr("fill", "none")
      .attr("stroke", "#111").attr("stroke-width", 1.4);
    g.append("path").datum(s.q95).attr("d", lineOf(y)).attr("fill", "none")
      .attr("stroke", "#ff0d0d").attr("stroke-width", 6).attr("stroke-linejoin", "round");
    txt(g, "q95", L + lay.q95[0], lay.q95[1], 32, "#ff1a1a", lay.q95[2]);
    txt(g, "ne", L + lay.ne[0], lay.ne[1], 30, "#111", lay.ne[2]);
  }
  // ---- panel 3: ion temperature, soft X-ray ----
  {
    const g = panels[2], y = ys[2];
    resampled(g, 2);
    envelope(g, y, s.sxr, "magStripe", "#ff00ff");
    g.append("path").datum(s.ti).attr("d", lineOf(y)).attr("fill", "none")
      .attr("stroke", "#2030ff").attr("stroke-width", 1.2).attr("stroke-dasharray", "1.2,3");
    g.selectAll("circle.ti").data(s.ti).enter().append("circle")
      .attr("cx", d => x(d[0])).attr("cy", d => y(d[1])).attr("r", 4.8).attr("fill", "#0c0ce8");
    txt(g, "TiO", L + lay.ti[0], lay.ti[1], 30, "#1450e6", lay.ti[2]);
    txt(g, "SXR", L + lay.sxr[0], lay.sxr[1], 28, "#ff1aff", lay.sxr[2]);
  }
  // ---- panel 4: NBI and LH power ----
  {
    const g = panels[3], y = ys[3];
    resampled(g, 3);
    g.append("path").datum(s.nbi).attr("d", lineOf(y, d3.curveStepAfter)).attr("fill", "none")
      .attr("stroke", "#ff1a1a").attr("stroke-width", 1.5);
    g.append("path").datum(s.lh2).attr("d", lineOf(y)).attr("fill", "none")
      .attr("stroke", "#1f8a1f").attr("stroke-width", 1.4);
    txt(g, "NBI", L + lay.nbi[0], lay.nbi[1], 29, "#ff1a1a", lay.nbi[2]);
    txt(g, "LH2", L + lay.lh2[0], lay.lh2[1], 28, "#19a850", lay.lh2[2]);
  }

  // ---- frames, ticks, tick labels ----
  ys.forEach((y, p) => {
    const top = panelTop[p], bot = panelBottom[p];
    const fr = col.append("g");
    // x ticks every half unit, top and bottom, pointing inward
    d3.range(2, 7.01, 0.5).forEach(v => {
      fr.append("line").attr("x1", x(v)).attr("x2", x(v)).attr("y1", bot).attr("y2", bot - 4)
        .attr("stroke", "#333").attr("stroke-width", 1.2);
      fr.append("line").attr("x1", x(v)).attr("x2", x(v)).attr("y1", top).attr("y2", top + 3)
        .attr("stroke", "#555").attr("stroke-width", 1);
    });
    const ticks = yTickSets[p][c];
    const dom = yDomains[p][c];
    const fmt = p < 2 ? d3.format(".1f") : d3.format("d");
    ticks.forEach(v => {
      const yy = y(v);
      if (v > dom[0] && v < dom[1]) {
        [[L + 5, L + 12], [R - 12, R - 5]].forEach(([a, b]) => {
          fr.append("line").attr("x1", a).attr("x2", b).attr("y1", yy).attr("y2", yy)
            .attr("stroke", "#555").attr("stroke-width", 1.1).attr("stroke-dasharray", "1.5,3");
        });
      }
      const ly = Math.max(top + 6, Math.min(bot - 6, yy));
      fr.append("text").attr("x", L - 4).attr("y", ly).attr("dy", "0.36em").attr("text-anchor", "end")
        .attr("font-family", FONT_AX).attr("font-size", 16).attr("fill", "#3c3c3c").text(fmt(v));
    });
    if (p === 3) {
      // half-unit ticks on both sides of the power panel
      d3.range(dom[0] + 0.5, dom[1], 1).forEach(v => {
        [[L, L + 6], [R - 6, R]].forEach(([a, b]) => {
          fr.append("line").attr("x1", a).attr("x2", b).attr("y1", y(v)).attr("y2", y(v))
            .attr("stroke", "#333").attr("stroke-width", 1.3);
        });
      });
    }
    fr.append("rect").attr("x", L).attr("y", top).attr("width", colWidth).attr("height", bot - top)
      .attr("fill", "none").attr("stroke", "#3a3a3a").attr("stroke-width", 1.6);
  });

  // time labels under the bottom panel
  xTicks.forEach(v => {
    col.append("text").attr("x", x(v)).attr("y", 672).attr("text-anchor", "middle")
      .attr("font-family", FONT_AX).attr("font-size", 17).attr("fill", "#333").text(v);
  });
});
</script>
</body></html>
